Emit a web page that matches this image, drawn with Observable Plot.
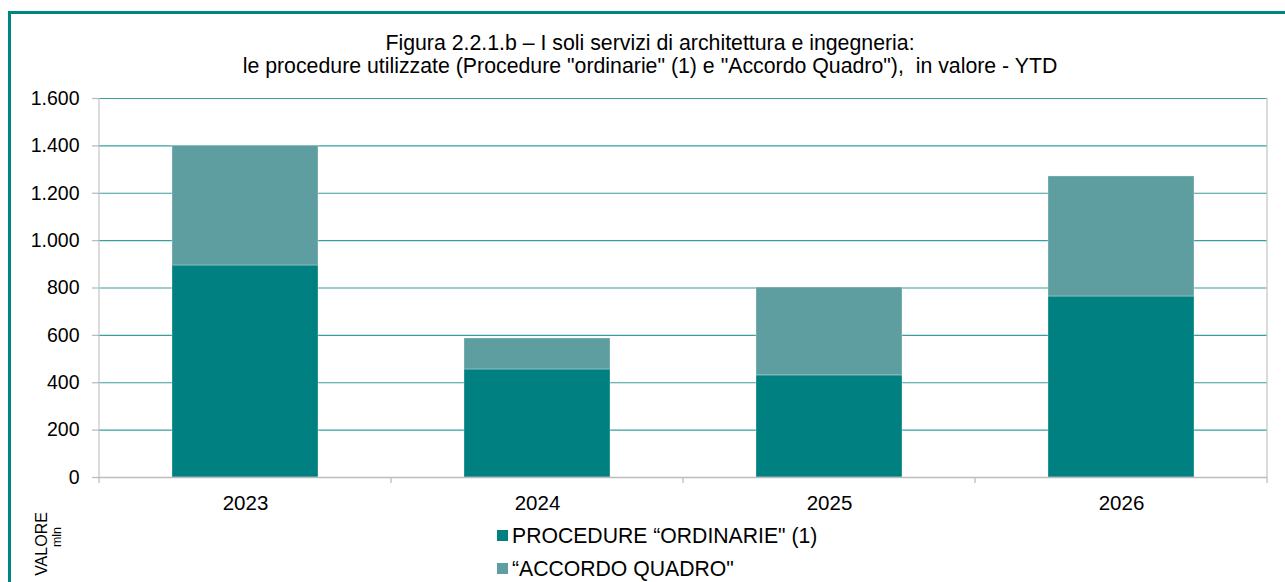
<!DOCTYPE html>
<html>
<head>
<meta charset="utf-8">
<script src="https://cdn.jsdelivr.net/npm/d3@7"></script>
<script src="https://cdn.jsdelivr.net/npm/@observablehq/plot@0.6"></script>
<style>
  html, body { margin: 0; padding: 0; background: #fff; }
  body { width: 1285px; height: 582px; overflow: hidden; position: relative; font-family: "Liberation Sans", Arial, sans-serif; }
  #frame { position: absolute; left: 8px; top: 11px; right: 0; bottom: 0; border-left: 3px solid #00857f; border-top: 3px solid #00857f; }
  #chart { position: absolute; left: 0; top: 0; }
  #title { position: absolute; left: 150px; width: 1000px; top: 32px; text-align: center; font-size: 21.3px; line-height: 23px; color: #000; white-space: pre; }
  #legend { position: absolute; left: 497px; top: 519px; font-size: 21.2px; color: #000; }
  #legend .item { display: flex; align-items: center; height: 33px; }
  #legend .sw { width: 11px; height: 11px; margin-right: 4px; }
  .vl { position: absolute; transform: translate(-50%, -50%) rotate(-90deg); white-space: nowrap; color: #000; line-height: 1; }
</style>
</head>
<body>
<div id="frame"></div>
<div id="chart"></div>
<div id="title"></div>
<div id="legend"></div>
<div class="vl" style="left:42px; top:544px; font-size:16px">VALORE</div>
<div class="vl" style="left:57px; top:537px; font-size:12.5px">mln</div>
<script>
const titleLines = [
  "Figura 2.2.1.b \u2013 I soli servizi di architettura e ingegneria:",
  "le procedure utilizzate (Procedure \"ordinarie\" (1) e \"Accordo Quadro\"),  in valore - YTD"
];
const years = ["2023", "2024", "2025", "2026"];
const seriesNames = ["PROCEDURE \u201cORDINARIE\" (1)", "\u201cACCORDO QUADRO\""];
const ordinarie = [895, 456, 431, 764];
const accordoQuadro = [505, 131, 371, 507];
const seriesColors = ["#008080", "#5f9ea0"];
const yTicks = [0, 200, 400, 600, 800, 1000, 1200, 1400, 1600];

const data = [];
years.forEach((y, i) => {
  data.push({year: y, series: seriesNames[0], value: ordinarie[i]});
  data.push({year: y, series: seriesNames[1], value: accordoQuadro[i]});
});

const itFormat = d3.formatLocale({decimal: ",", thousands: ".", grouping: [3], currency: ["", "\u20ac"]}).format(",");

// boundary ticks for category axis + plot side lines, computed from the band scale
function categoryTicks(index, scales, values, dimensions) {
  const x = scales.x;
  const bw = x.bandwidth ? x.bandwidth() : 0;
  const step = x.step ? x.step() : bw * 2;
  const y0 = dimensions.height - dimensions.marginBottom;
  const g = d3.create("svg:g");
  const bounds = years.map(v => x(v) + bw / 2 - step / 2);
  bounds.push(x(years[years.length - 1]) + bw / 2 + step / 2);
  for (const b of bounds) {
    g.append("line").attr("x1", b).attr("x2", b).attr("y1", y0).attr("y2", y0 + 6)
      .attr("stroke", "#bdbdbd").attr("stroke-width", 1.3);
  }
  for (const b of [bounds[0], bounds[bounds.length - 1]]) {
    g.append("line").attr("x1", b).attr("x2", b).attr("y1", dimensions.marginTop).attr("y2", y0)
      .attr("stroke", "#c8c8c8").attr("stroke-width", 1.3);
  }
  return g.node();
}

const chart = Plot.plot({
  width: 1285,
  height: 520,
  marginLeft: 98,
  marginRight: 18,
  marginTop: 98,
  marginBottom: 43,
  style: {fontFamily: "Liberation Sans, Arial, sans-serif", fontSize: "19.5px", color: "#000", background: "transparent"},
  x: {domain: years, paddingInner: 0.5, paddingOuter: 0.25, label: null},
  y: {domain: [0, 1600], label: null},
  color: {domain: seriesNames, range: seriesColors},
  marks: [
    Plot.ruleY(yTicks.filter(d => d > 0), {stroke: "#3a9e9e", strokeWidth: 1.2}),
    Plot.barY(data, {x: "year", y: "value", fill: "series", order: seriesNames, stroke: "#ffffff", strokeOpacity: 0.3, strokeWidth: 1}),
    Plot.ruleY([0], {stroke: "#bdbdbd", strokeWidth: 1.3}),
    Plot.axisY({ticks: yTicks, tickFormat: itFormat, tickSize: 6, tickPadding: 13, stroke: "#bdbdbd", fill: "#000", fontSize: 19.5, strokeWidth: 1.3}),
    Plot.axisX({tickSize: 0, tickPadding: 18, fill: "#000", fontSize: 20.5}),
    categoryTicks
  ]
});
document.getElementById("chart").appendChild(chart);

document.getElementById("title").innerHTML = titleLines.map(t => `<div>${t.replace(/</g,"&lt;")}</div>`).join("");
document.getElementById("legend").innerHTML = seriesNames.map((s, i) =>
  `<div class="item"><div class="sw" style="background:${seriesColors[i]}"></div><span>${s}</span></div>`).join("");
</script>
</body>
</html>
